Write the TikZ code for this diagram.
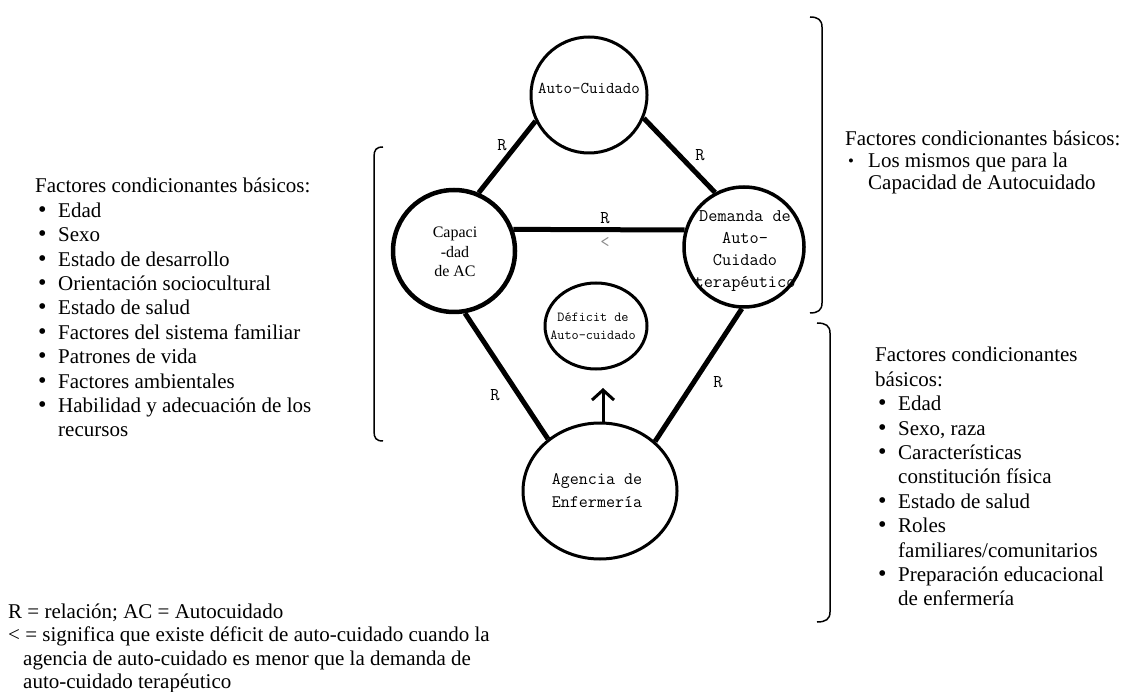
\documentclass[tikz,border=0pt]{standalone}
\usepackage{fontspec}
\setmainfont{Liberation Serif}
\usetikzlibrary{shapes.geometric,arrows.meta}

% list helpers for the factor blocks
\newcommand{\bigbul}{\raisebox{0pt}{\scalebox{1.15}{•}}}
\newcommand{\smallbul}{\raisebox{1pt}{\scalebox{0.8}{•}}}
\newcommand{\itm}{\par\makebox[23pt][l]{\hspace{3pt}\bigbul}}
\newcommand{\itmsmall}{\par\makebox[23pt][l]{\hspace{3pt}\smallbul}}
\newcommand{\cont}[1]{\par\hspace*{#1}}

\tikzset{
  ring/.style={draw, circle, line width=3pt, inner sep=0pt},
  oval/.style={draw, ellipse, line width=3pt, inner sep=0pt},
  ctext/.style={align=center, inner sep=0pt, font=\ttfamily\fontsize{17.8}{21.7}\selectfont},
  link/.style={line width=5pt},
  rlab/.style={inner sep=0pt, font=\ttfamily\fontsize{18}{18}\selectfont},
  txt/.style={inner sep=0pt, anchor=base west, font=\fontsize{21}{24.4}\selectfont},
  bracket/.style={line width=1.5pt},
}

\begin{document}
\begin{tikzpicture}[x=1pt,y=-1pt]
\useasboundingbox (0,0) rectangle (1127,692);

% the five concepts
\node[ring, minimum size=116pt] (auto) at (589,95) {};
\node[ctext, font=\ttfamily\fontsize{16.5}{16}\selectfont] (autotxt) at (589,88) {Auto-Cuidado};

\node[ring, line width=4.5pt, minimum size=122pt] (cap) at (454,251) {};
\node[ctext, font=\fontsize{16}{19.5}\selectfont] (captxt) at (455,252) {Capaci\\-dad\\de AC};

\node[ring, line width=3.5pt, minimum size=120pt] (dem) at (744,247) {};
\node[ctext] (demtxt) at (745,251) {Demanda de\\Auto-\\Cuidado\\terapéutico};

\node[oval, minimum width=102pt, minimum height=86pt] (def) at (596,326) {};
\node[ctext, font=\ttfamily\fontsize{13.8}{18}\selectfont] (deftxt) at (593,326) {Déficit de\\Auto-cuidado};

\node[oval, minimum width=154pt, minimum height=136pt] (agen) at (600,491) {};
\node[ctext, font=\ttfamily\fontsize{17.5}{23}\selectfont] (agentxt) at (597,491) {Agencia de\\Enfermería};

% relations
\draw[link] (auto.206) -- (cap.67);
\draw[link] (auto.337) -- (dem.118);
\draw[link] (cap.20) -- (dem.164);
\draw[link] (cap.280) -- (agen.135);
\draw[link] (dem.268) -- (agen.42);

\coordinate (tip) at (603,388);
\draw[line width=3pt, -{Straight Barb[length=10pt,width=22pt]}] (agen.north -| tip) -- (tip);

\node[rlab] (r1) at (502,145) {R};
\node[rlab] (r2) at (700,155) {R};
\node[rlab] (r3) at (605,218) {R};
\node[rlab, text=black!45] (lt) at (605,243) {<};
\node[rlab] (r4) at (495,395) {R};
\node[rlab] (r5) at (718,382) {R};

% brackets
\draw[bracket] (383,147) .. controls (376,147) and (374,150) .. (374,157) -- (374,431) .. controls (374,438) and (376,441) .. (383,441);
\draw[bracket] (810,17) .. controls (818,17) and (822,20) .. (822,27) -- (822,303) .. controls (822,310) and (818,313) .. (810,313);
\draw[bracket] (817,323) .. controls (826,323) and (830,326) .. (830,333) -- (830,612) .. controls (830,619) and (826,622) .. (817,622);

% factor blocks
\node[txt] (leftfac) at (35,193) {\begin{minipage}[t]{330pt}
Factores condicionantes básicos:
\itm Edad
\itm Sexo
\itm Estado de desarrollo
\itm Orientación sociocultural
\itm Estado de salud
\itm Factores del sistema familiar
\itm Patrones de vida
\itm Factores ambientales
\itm Habilidad y adecuación de los
\cont{23pt}recursos
\end{minipage}};

\node[txt, font=\fontsize{21}{22}\selectfont] (topfac) at (845,146) {\begin{minipage}[t]{300pt}
Factores condicionantes básicos:
\itmsmall Los mismos que para la
\cont{23pt}Capacidad de Autocuidado
\end{minipage}};

\node[txt] (lowfac) at (875,362) {\begin{minipage}[t]{250pt}
Factores condicionantes
\par básicos:
\itm Edad
\itm Sexo, raza
\itm Características
\cont{23pt}constitución física
\itm Estado de salud
\itm Roles
\cont{23pt}familiares/comunitarios
\itm Preparación educacional
\cont{23pt}de enfermería
\end{minipage}};

% legend
\node[txt, font=\fontsize{21}{23.5}\selectfont] (legend) at (8,618) {\begin{minipage}[t]{600pt}
R = relación; AC = Autocuidado
\par < = significa que existe déficit de auto-cuidado cuando la
\cont{15pt}agencia de auto-cuidado es menor que la demanda de
\cont{15pt}auto-cuidado terapéutico
\end{minipage}};
\end{tikzpicture}
\end{document}
